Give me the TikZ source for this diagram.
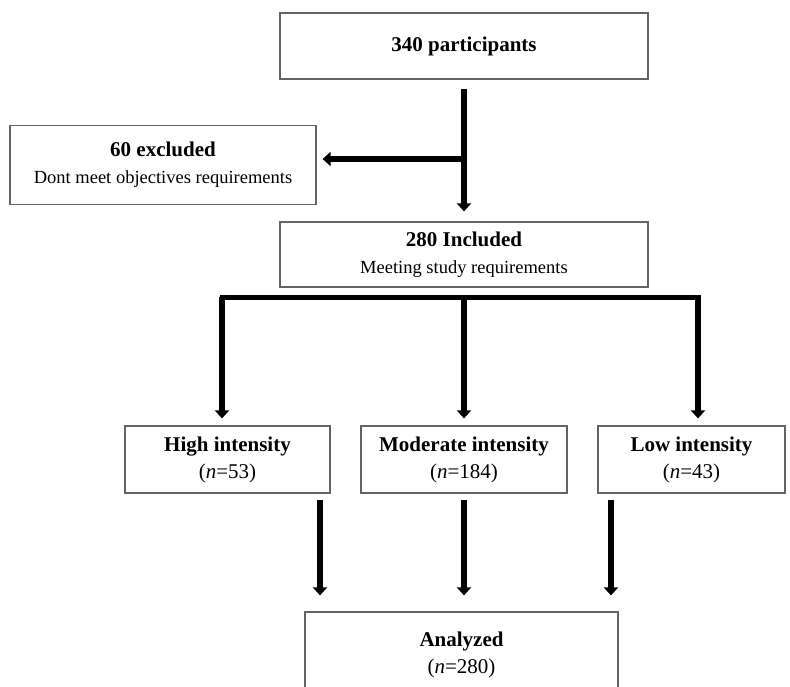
\documentclass[tikz,border=0pt]{standalone}
\usepackage{fontspec}
\setmainfont{Liberation Serif}
\usetikzlibrary{arrows.meta}
\definecolor{boxgray}{RGB}{100,100,100}
\newcommand{\subline}{\fontsize{18.5}{27}\selectfont}

\begin{document}
\begin{tikzpicture}[%
      x=1pt, y=-1pt,
      box/.style={draw=boxgray, line width=1.2pt, align=center, inner sep=0pt,
        font=\fontsize{21}{27}\selectfont},
      flow/.style={color=black, line width=6pt, -{Triangle[width=14pt,length=8pt]}},
      bar/.style={color=black, line width=5pt, line cap=rect},
      ]
      \useasboundingbox (0,0) rectangle (790,686);
      \clip (0,0) rectangle (790,686);

      \node [box, minimum width=368pt, minimum height=66pt] (total) at (464,46)
        {\textbf{340 participants}};
      \node [box, minimum width=306pt, minimum height=79pt] (excl) at (163,165)
        {\textbf{60 excluded}\\{\subline Dont meet objectives requirements}};
      \node [box, minimum width=368pt, minimum height=65pt] (incl) at (464,254.5)
        {\textbf{280 Included}\\{\subline Meeting study requirements}};
      \node [box, minimum width=205pt, minimum height=67pt] (high) at (227.5,459.5)
        {\textbf{High intensity}\\(\textit{n}=53)};
      \node [box, minimum width=206pt, minimum height=67pt] (mod) at (464,459.5)
        {\textbf{Moderate intensity}\\(\textit{n}=184)};
      \node [box, minimum width=187pt, minimum height=67pt] (low) at (691.5,459.5)
        {\textbf{Low intensity}\\(\textit{n}=43)};
      \node [box, minimum width=313pt, minimum height=86pt] (anal) at (461.5,655)
        {\textbf{Analyzed}\\(\textit{n}=280)};

      \coordinate (split) at (464,159);
      \coordinate (forkL) at (222,297);
      \coordinate (fork) at (464,297);
      \coordinate (forkR) at (698,297);
      \coordinate (inL) at (320,0);
      \coordinate (inR) at (611,0);

      \draw [flow, shorten <=9pt, shorten >=10pt] (total) -- (incl);
      \draw [flow, shorten >=6pt] (split) -- (excl.east |- split);

      \draw [bar] (forkL) -- (forkR);
      \draw [flow, shorten >=7pt] (forkL) -- (forkL |- high.north);
      \draw [flow, shorten >=7pt] (fork) -- (mod);
      \draw [flow, shorten >=7pt] (forkR) -- (forkR |- low.north);

      \draw [flow, shorten <=6pt, shorten >=16pt] (high.south -| inL) -- (anal.north -| inL);
      \draw [flow, shorten <=6pt, shorten >=16pt] (mod) -- (anal.north -| mod);
      \draw [flow, shorten <=6pt, shorten >=16pt] (low.south -| inR) -- (anal.north -| inR);
\end{tikzpicture}
\end{document}
